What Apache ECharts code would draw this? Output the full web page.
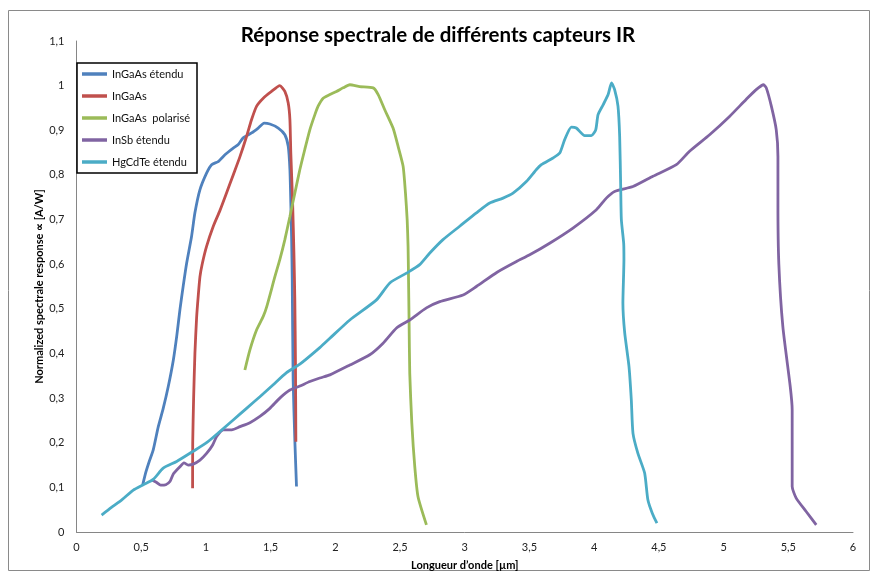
<!DOCTYPE html>
<html>
<head>
<meta charset="utf-8">
<script src="https://cdn.jsdelivr.net/npm/echarts@6/dist/echarts.min.js"></script>
<style>
html,body{margin:0;padding:0;background:#fff;}
#chart{width:876px;height:580px;}
</style>
</head>
<body>
<div id="chart"></div>
<script>
const chartTitle = 'Réponse spectrale de différents capteurs IR';
const xAxisTitle = 'Longueur d\u2019onde [µm]';
const yAxisTitle = 'Normalized spectrale response \u221d [A/W]';
const seriesNames = ['InGaAs étendu', 'InGaAs', 'InGaAs  polarisé', 'InSb étendu', 'HgCdTe étendu'];
const seriesColors = ['#4F81BD', '#C0504D', '#9BBB59', '#8064A2', '#4BACC6'];

// [wavelength µm, normalized response]
const ingaasEtendu = [
  [0.511,0.105],[0.537,0.135],[0.562,0.158],[0.593,0.184],[0.632,0.236],[0.670,0.277],[0.709,0.326],
  [0.748,0.385],[0.775,0.440],[0.800,0.500],[0.825,0.552],[0.851,0.602],[0.889,0.662],[0.915,0.715],
  [0.954,0.767],[1.005,0.804],[1.044,0.823],[1.095,0.830],[1.147,0.845],[1.211,0.860],[1.250,0.868],
  [1.288,0.883],[1.353,0.894],[1.404,0.905],[1.450,0.916],[1.494,0.914],[1.559,0.905],[1.610,0.890],
  [1.636,0.864],[1.649,0.812],[1.656,0.737],[1.662,0.662],[1.667,0.565],[1.674,0.341],[1.687,0.206],
  [1.700,0.102]
];
const ingaas = [
  [0.897,0.098],[0.898,0.200],[0.905,0.300],[0.915,0.400],[0.928,0.480],[0.941,0.530],[0.954,0.572],
  [0.971,0.600],[1.005,0.640],[1.057,0.685],[1.108,0.720],[1.160,0.760],[1.211,0.800],[1.263,0.841],
  [1.314,0.886],[1.353,0.924],[1.392,0.954],[1.443,0.972],[1.507,0.987],[1.571,1.000],[1.610,0.987],
  [1.636,0.961],[1.649,0.924],[1.656,0.849],[1.670,0.737],[1.680,0.625],[1.687,0.520],[1.692,0.378],
  [1.695,0.202]
];
const ingaasPolarise = [
  [1.301,0.363],[1.340,0.408],[1.392,0.453],[1.443,0.483],[1.470,0.505],[1.533,0.572],[1.571,0.610],
  [1.610,0.655],[1.649,0.707],[1.687,0.759],[1.726,0.812],[1.764,0.857],[1.803,0.901],[1.842,0.935],
  [1.867,0.954],[1.906,0.972],[1.958,0.980],[2.009,0.987],[2.060,0.995],[2.112,1.002],[2.189,0.998],
  [2.292,0.995],[2.331,0.980],[2.382,0.946],[2.446,0.905],[2.485,0.864],[2.524,0.819],[2.542,0.759],
  [2.555,0.700],[2.562,0.640],[2.565,0.580],[2.570,0.468],[2.575,0.356],[2.591,0.244],[2.614,0.146],
  [2.639,0.079],[2.704,0.016]
];
const insbEtendu = [
  [0.580,0.117],[0.619,0.111],[0.650,0.105],[0.690,0.106],[0.722,0.113],[0.748,0.130],[0.799,0.146],
  [0.830,0.155],[0.863,0.150],[0.902,0.152],[0.954,0.161],[1.005,0.176],[1.052,0.195],[1.083,0.214],
  [1.134,0.229],[1.200,0.229],[1.263,0.236],[1.340,0.245],[1.417,0.259],[1.494,0.277],[1.571,0.300],
  [1.649,0.318],[1.726,0.327],[1.803,0.337],[1.880,0.345],[1.958,0.352],[2.112,0.374],[2.266,0.397],
  [2.369,0.423],[2.473,0.457],[2.575,0.475],[2.704,0.502],[2.807,0.516],[2.987,0.531],[3.090,0.550],
  [3.250,0.582],[3.400,0.606],[3.502,0.621],[3.656,0.647],[3.836,0.681],[4.017,0.722],[4.094,0.748],
  [4.158,0.763],[4.300,0.774],[4.454,0.797],[4.635,0.823],[4.737,0.853],[4.892,0.890],[5.046,0.931],
  [5.174,0.969],[5.252,0.991],[5.309,1.002],[5.330,0.995],[5.369,0.954],[5.407,0.901],[5.420,0.841],
  [5.420,0.737],[5.427,0.600],[5.458,0.460],[5.515,0.326],[5.530,0.274],[5.530,0.102],[5.561,0.076],
  [5.638,0.046],[5.716,0.016]
];
const hgcdteEtendu = [
  [0.194,0.038],[0.270,0.055],[0.350,0.072],[0.439,0.094],[0.516,0.106],[0.593,0.118],[0.670,0.143],
  [0.774,0.158],[0.902,0.181],[1.005,0.200],[1.108,0.225],[1.211,0.251],[1.314,0.277],[1.417,0.303],
  [1.520,0.330],[1.623,0.357],[1.726,0.376],[1.880,0.413],[1.958,0.434],[2.112,0.475],[2.318,0.520],
  [2.421,0.558],[2.550,0.580],[2.652,0.599],[2.730,0.625],[2.832,0.655],[2.961,0.685],[3.090,0.715],
  [3.193,0.737],[3.296,0.748],[3.373,0.759],[3.476,0.785],[3.554,0.812],[3.592,0.823],[3.682,0.838],
  [3.734,0.849],[3.772,0.879],[3.824,0.907],[3.862,0.905],[3.927,0.888],[3.978,0.888],[4.012,0.901],
  [4.030,0.935],[4.069,0.957],[4.108,0.980],[4.134,1.006],[4.158,0.991],[4.184,0.954],[4.197,0.886],
  [4.205,0.774],[4.210,0.700],[4.228,0.647],[4.230,0.610],[4.222,0.513],[4.236,0.446],[4.269,0.371],
  [4.287,0.296],[4.300,0.221],[4.338,0.176],[4.390,0.132],[4.415,0.072],[4.449,0.042],[4.485,0.020]
];
const seriesData = [ingaasEtendu, ingaas, ingaasPolarise, insbEtendu, hgcdteEtendu];

const FONT = 'Lato';
const fmt = v => String(Math.round(v * 10) / 10).replace('.', ',');

const chart = echarts.init(document.getElementById('chart'), null, {renderer: 'canvas'});
chart.setOption({
  animation: false,
  backgroundColor: '#ffffff',
  graphic: [{
    type: 'rect', z: -10, silent: true,
    shape: {x: 8.5, y: 10.5, width: 861, height: 560},
    style: {fill: 'none', stroke: '#8a8a8a', lineWidth: 1}
  }],
  title: {
    text: chartTitle,
    left: 'center', top: 20,
    textStyle: {fontFamily: FONT, fontSize: 20.5, fontWeight: 'bold', color: '#000'}
  },
  legend: {
    orient: 'vertical',
    left: 77, top: 63,
    padding: [4, 7, 4, 5],
    borderColor: '#000', borderWidth: 1.5,
    backgroundColor: '#fff',
    icon: 'rect',
    itemWidth: 25, itemHeight: 3.5,
    itemGap: 8,
    textStyle: {fontFamily: FONT, fontSize: 11, color: '#111', lineHeight: 14},
    data: seriesNames
  },
  grid: {left: 76.5, right: 23, top: 41, bottom: 48, containLabel: false},
  xAxis: {
    type: 'value', min: 0, max: 6, interval: 0.5,
    name: xAxisTitle, nameLocation: 'middle', nameGap: 28, nameMoveOverlap: false,
    nameTextStyle: {fontFamily: FONT, fontSize: 11, fontWeight: 'bold', color: '#000'},
    axisLine: {show: true, lineStyle: {color: '#868686', width: 1}},
    axisTick: {show: false},
    splitLine: {show: false},
    axisLabel: {fontFamily: FONT, fontSize: 11, color: '#222', margin: 10, formatter: fmt}
  },
  yAxis: {
    type: 'value', min: 0, max: 1.1, interval: 0.1,
    name: yAxisTitle, nameLocation: 'middle', nameGap: 32, nameMoveOverlap: false,
    nameTextStyle: {fontFamily: FONT, fontSize: 11, fontWeight: 'bold', color: '#000'},
    axisLine: {show: true, lineStyle: {color: '#868686', width: 1}},
    axisTick: {show: false},
    splitLine: {show: false},
    axisLabel: {fontFamily: FONT, fontSize: 11, color: '#222', margin: 12, formatter: fmt}
  },
  series: seriesNames.map((name, i) => ({
    name: name,
    type: 'line',
    data: seriesData[i],
    showSymbol: false,
    smooth: 0.2,
    color: seriesColors[i],
    lineStyle: {color: seriesColors[i], width: 2.8},
    emphasis: {disabled: true}
  }))
});
</script>
</body>
</html>
